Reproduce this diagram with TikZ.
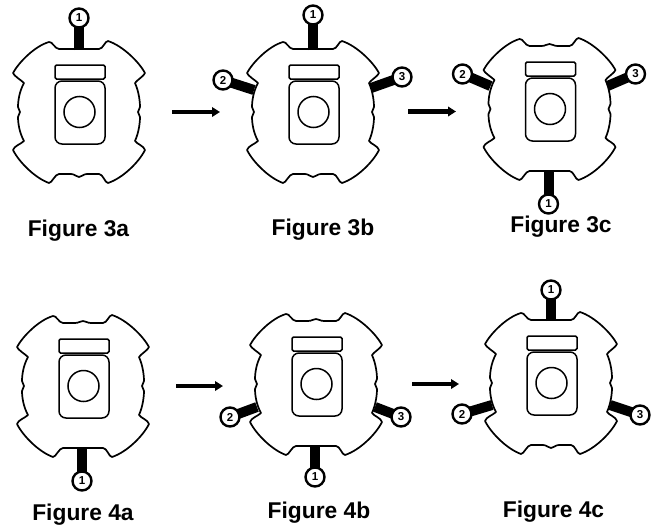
\documentclass[tikz,border=0pt]{standalone}
\usepackage{fontspec}
\setmainfont{Liberation Sans}
\usetikzlibrary{arrows.meta}
\tikzset{
  x=1pt,y=-1pt,
  outline/.style={line width=1.7pt,line join=round},
  jarline/.style={line width=1.5pt},
  pinbar/.style={line width=10pt,shorten >=-2.4pt},
  pinhead/.style={circle,draw,line width=2.4pt,fill=white,minimum size=19pt,inner sep=0pt,font=\bfseries\fontsize{11.5}{11.5}\selectfont},
  flowarrow/.style={line width=4.2pt,-{Triangle[length=8pt,width=9.5pt]}},
  caption/.style={anchor=base,inner sep=0pt,font=\bfseries\fontsize{22.8}{24}\selectfont},
}
\newcommand{\Device}[5]{%
  \begin{scope}[shift={(#2,#3)}]
    \draw[outline] (-30,-70)
      .. controls (-27,-71) and (-24,-63) .. (-20,-63)
      -- (-8,-63) .. controls (-4,-63) and (-3,#4) .. (0,#4)
      .. controls (3,#4) and (4,-63) .. (8,-63)
      -- (20,-63) .. controls (24,-63) and (26,-71) .. (29,-71)
      .. controls (44,-66) and (60,-50) .. (66,-39)
      .. controls (65,-36) and (58,-32) .. (56,-29)
      .. controls (60,-20) and (61,-10) .. (61,-5)
      -- (59,0) -- (61,5)
      .. controls (61,10) and (60,20) .. (56,29)
      .. controls (58,32) and (65,34) .. (66,38)
      .. controls (60,50) and (44,66) .. (29,71)
      .. controls (26,71) and (24,62) .. (20,62)
      -- (8,62) .. controls (4,62) and (3,#5) .. (0,#5)
      .. controls (-3,#5) and (-4,62) .. (-8,62)
      -- (-20,62) .. controls (-24,62) and (-27,71) .. (-30,71)
      .. controls (-44,66) and (-60,50) .. (-66,38)
      .. controls (-65,34) and (-58,32) .. (-55,29)
      .. controls (-60,20) and (-61,10) .. (-61,5)
      -- (-59,0) -- (-61,-5)
      .. controls (-61,-10) and (-60,-20) .. (-55,-29)
      .. controls (-58,-32) and (-65,-36) .. (-66,-39)
      .. controls (-60,-50) and (-44,-66) .. (-30,-70) -- cycle;
    \draw[jarline,rounded corners=1.5pt] (-24,-47) rectangle (26,-33);
    \draw[jarline,rounded corners=7pt] (1,-31) -- (26,-31) -- (26,32) -- (-24,32) -- (-24,-31) -- (1,-31);
    \draw[jarline] (0.5,0) circle[radius=15.5];
    #1
  \end{scope}}
\newcommand{\Pin}[6]{% name, number, base x,y, head x,y
  \coordinate (#1base) at (#3,#4);
  \node[pinhead] (#1) at (#5,#6) {#2};
  \draw[pinbar] (#1base) -- (#1);}
\begin{document}
\begin{tikzpicture}
\useasboundingbox (0,0) rectangle (658,525);
\Device{\Pin{pa1}{1}{0}{-62}{0}{-94}}{79}{112}{-63}{65}
\Device{\Pin{pb1}{1}{0}{-62}{0}{-97}\Pin{pb2}{2}{-59}{-22}{-90}{-32}\Pin{pb3}{3}{58}{-24}{89}{-35}}{313}{112}{-63}{65}
\Device{\Pin{pc1}{1}{-1}{61}{-1}{95}\Pin{pc2}{2}{-59}{-23}{-87}{-35}\Pin{pc3}{3}{58}{-23}{86}{-35}}{549.5}{109}{-65}{62}
\Device{\Pin{qa1}{1}{-1}{61}{-1}{95}}{83}{386}{-65}{62}
\Device{\Pin{qb1}{1}{-1}{61}{-1}{93}\Pin{qb2}{2}{-59}{23}{-86}{33}\Pin{qb3}{3}{59}{23}{85}{33}}{316}{384}{-65}{62}
\Device{\Pin{qc1}{1}{0}{-62}{0}{-93}\Pin{qc2}{2}{-59}{22}{-89}{31}\Pin{qc3}{3}{59}{22}{89}{32}}{551}{383}{-63}{65}
\coordinate (f1s) at (172,112); \coordinate (f1e) at (220,112);
\coordinate (f2s) at (408,111.5); \coordinate (f2e) at (456,111.5);
\coordinate (f3s) at (176,386); \coordinate (f3e) at (223,386);
\coordinate (f4s) at (412,384); \coordinate (f4e) at (459,384);
\draw[flowarrow] (f1s) -- (f1e);
\draw[flowarrow] (f2s) -- (f2e);
\draw[flowarrow] (f3s) -- (f3e);
\draw[flowarrow] (f4s) -- (f4e);
\node[caption] (c3a) at (78.5,236) {Figure 3a};
\node[caption] (c3b) at (323,235) {Figure 3b};
\node[caption] (c3c) at (561,232) {Figure 3c};
\node[caption] (c4a) at (83,520) {Figure 4a};
\node[caption] (c4b) at (319,518) {Figure 4b};
\node[caption] (c4c) at (553.5,517) {Figure 4c};
\end{tikzpicture}
\end{document}
